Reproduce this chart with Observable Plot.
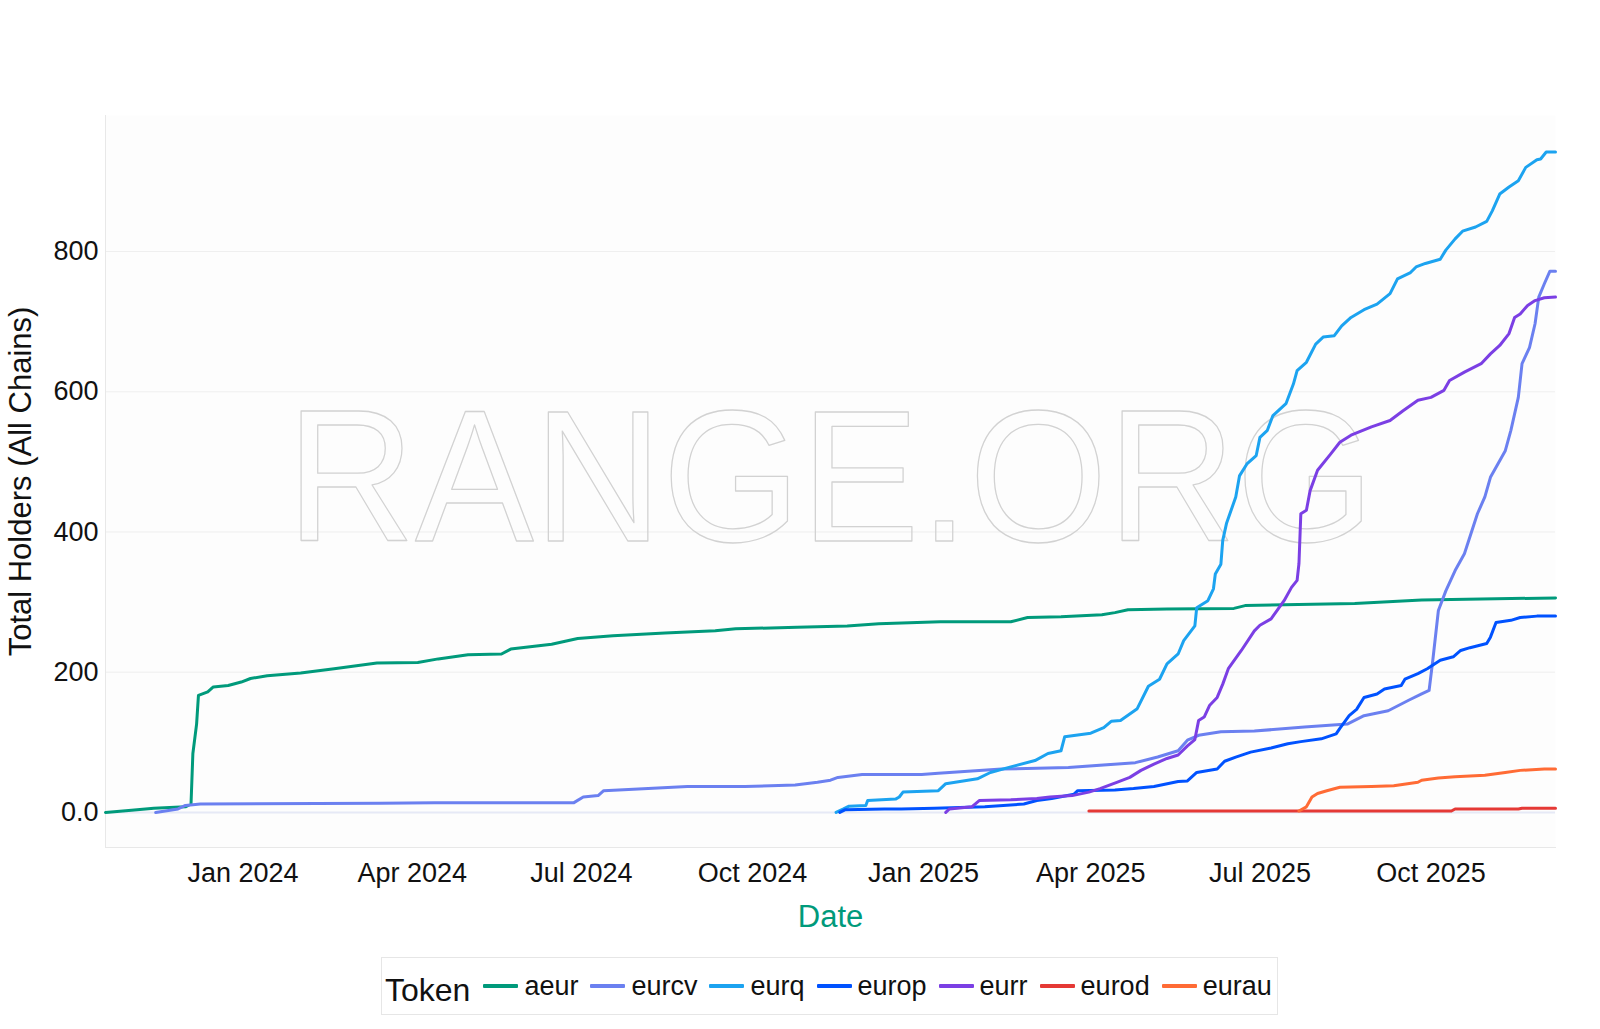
<!DOCTYPE html>
<html>
<head>
<meta charset="utf-8">
<script src="https://cdn.jsdelivr.net/npm/d3@7"></script>
<script src="https://cdn.jsdelivr.net/npm/@observablehq/plot@0.6"></script>
<style>
  html, body { margin: 0; padding: 0; background: #ffffff; }
  body { width: 1600px; height: 1029px; position: relative; overflow: hidden;
         font-family: "Liberation Sans", Arial, Helvetica, sans-serif; }
  #chart { position: absolute; left: 0; top: 0; }
  #legend { position: absolute; left: 381px; top: 957px; width: 897px; height: 58px;
            border: 1px solid #e6e6e6; background: #fff; box-sizing: border-box;
            display: flex; align-items: center; padding-left: 3px; color: #111; }
  #legend .title { font-size: 32px; margin-right: 13px; position: relative; top: 4px; }
  #legend .item { display: flex; align-items: center; font-size: 27px; margin-right: 12px; }
  #legend .sw { width: 35px; height: 4px; margin-right: 6px; border-radius: 1px; }
</style>
</head>
<body>
<div id="chart"></div>
<div id="legend"></div>
<script>
// ---- data ----
const tokens = ["aeur", "eurcv", "eurq", "europ", "eurr", "eurod", "eurau"];
const tokenColors = ["#009a7b", "#6b80f0", "#1ca3f0", "#0052ff", "#7b3fe4", "#e53935", "#ff6b35"];
const yTicks = [0, 200, 400, 600, 800];
const xTicks = ["2024-01-01", "2024-04-01", "2024-07-01", "2024-10-01", "2025-01-01", "2025-04-01", "2025-07-01", "2025-10-01"];

const aeur = [
  ["2023-10-19", 0], ["2023-11-02", 3], ["2023-11-14", 6], ["2023-12-01", 8], ["2023-12-04", 12],
  ["2023-12-05", 84], ["2023-12-07", 126], ["2023-12-08", 167], ["2023-12-13", 172], ["2023-12-16", 179],
  ["2023-12-24", 181], ["2023-12-31", 186], ["2024-01-05", 191], ["2024-01-14", 195], ["2024-02-01", 199],
  ["2024-02-19", 205], ["2024-03-13", 213], ["2024-04-04", 214], ["2024-04-15", 219], ["2024-05-01", 225],
  ["2024-05-19", 226], ["2024-05-24", 233], ["2024-06-15", 240], ["2024-06-29", 248], ["2024-07-18", 252],
  ["2024-08-15", 256], ["2024-09-11", 259], ["2024-09-22", 262], ["2024-10-25", 264], ["2024-11-21", 266],
  ["2024-12-08", 269], ["2025-01-10", 272], ["2025-02-17", 272], ["2025-02-26", 278], ["2025-03-16", 279],
  ["2025-04-07", 282], ["2025-04-14", 285], ["2025-04-21", 289], ["2025-05-12", 290], ["2025-06-17", 291],
  ["2025-06-23", 295], ["2025-08-21", 298], ["2025-09-26", 303], ["2025-12-07", 306]
];
const eurcv = [
  ["2023-11-15", 0], ["2023-11-27", 5], ["2023-12-01", 10], ["2023-12-09", 12], ["2024-03-15", 13],
  ["2024-04-13", 14], ["2024-06-27", 14], ["2024-07-02", 22], ["2024-07-10", 24], ["2024-07-13", 31],
  ["2024-07-29", 33], ["2024-08-27", 37], ["2024-09-27", 37], ["2024-10-24", 39], ["2024-11-05", 43],
  ["2024-11-12", 46], ["2024-11-16", 50], ["2024-11-29", 54], ["2024-12-31", 54], ["2025-01-09", 56],
  ["2025-02-12", 62], ["2025-03-20", 64], ["2025-04-25", 71], ["2025-05-07", 79], ["2025-05-18", 88],
  ["2025-05-23", 103], ["2025-05-29", 110], ["2025-06-10", 115], ["2025-06-28", 116], ["2025-07-25", 122],
  ["2025-08-17", 126], ["2025-08-26", 138], ["2025-09-08", 145], ["2025-09-19", 160], ["2025-09-26", 169],
  ["2025-09-30", 174], ["2025-10-02", 217], ["2025-10-05", 288], ["2025-10-09", 316], ["2025-10-14", 345],
  ["2025-10-19", 369], ["2025-10-26", 426], ["2025-10-30", 450], ["2025-11-02", 478], ["2025-11-06", 497],
  ["2025-11-10", 516], ["2025-11-13", 545], ["2025-11-17", 592], ["2025-11-19", 640], ["2025-11-23", 663],
  ["2025-11-26", 697], ["2025-11-28", 735], ["2025-12-01", 754], ["2025-12-04", 772], ["2025-12-07", 772]
];
const eurq = [
  ["2024-11-15", 0], ["2024-11-19", 5], ["2024-11-22", 9], ["2024-12-01", 10], ["2024-12-02", 17],
  ["2024-12-17", 19], ["2024-12-19", 22], ["2024-12-21", 29], ["2025-01-09", 31], ["2025-01-13", 41],
  ["2025-01-30", 48], ["2025-02-06", 57], ["2025-02-17", 65], ["2025-03-02", 74], ["2025-03-09", 84],
  ["2025-03-16", 88], ["2025-03-18", 108], ["2025-04-01", 113], ["2025-04-08", 121], ["2025-04-12", 130],
  ["2025-04-17", 131], ["2025-04-26", 148], ["2025-05-02", 180], ["2025-05-08", 190], ["2025-05-12", 212],
  ["2025-05-18", 226], ["2025-05-21", 245], ["2025-05-27", 266], ["2025-05-28", 292], ["2025-06-03", 302],
  ["2025-06-06", 319], ["2025-06-07", 340], ["2025-06-10", 354], ["2025-06-11", 388], ["2025-06-13", 412],
  ["2025-06-18", 450], ["2025-06-20", 480], ["2025-06-24", 497], ["2025-06-29", 509], ["2025-07-01", 535],
  ["2025-07-05", 545], ["2025-07-08", 566], ["2025-07-15", 583], ["2025-07-19", 611], ["2025-07-21", 630],
  ["2025-07-26", 642], ["2025-07-31", 668], ["2025-08-04", 678], ["2025-08-10", 680], ["2025-08-14", 694],
  ["2025-08-19", 706], ["2025-08-26", 717], ["2025-09-02", 725], ["2025-09-09", 740], ["2025-09-13", 761],
  ["2025-09-20", 770], ["2025-09-23", 778], ["2025-09-28", 783], ["2025-10-06", 789], ["2025-10-09", 802],
  ["2025-10-14", 818], ["2025-10-18", 829], ["2025-10-25", 835], ["2025-10-31", 843], ["2025-11-03", 858],
  ["2025-11-07", 882], ["2025-11-12", 892], ["2025-11-17", 901], ["2025-11-21", 920], ["2025-11-27", 931],
  ["2025-11-29", 932], ["2025-12-02", 942], ["2025-12-07", 942]
];
const europ = [
  ["2024-11-17", 0], ["2024-11-20", 4], ["2024-12-11", 5], ["2024-12-20", 5], ["2025-01-07", 6],
  ["2025-02-03", 8], ["2025-02-24", 12], ["2025-03-03", 17], ["2025-03-11", 20], ["2025-03-23", 26],
  ["2025-03-25", 31], ["2025-04-14", 32], ["2025-04-24", 34], ["2025-05-05", 37], ["2025-05-18", 44],
  ["2025-05-23", 45], ["2025-05-28", 57], ["2025-06-08", 62], ["2025-06-12", 73], ["2025-06-18", 79],
  ["2025-06-26", 86], ["2025-07-07", 92], ["2025-07-16", 98], ["2025-07-23", 101], ["2025-08-03", 105],
  ["2025-08-11", 112], ["2025-08-13", 120], ["2025-08-18", 138], ["2025-08-22", 147], ["2025-08-26", 164],
  ["2025-09-02", 169], ["2025-09-06", 176], ["2025-09-15", 181], ["2025-09-17", 190], ["2025-09-24", 198],
  ["2025-09-29", 205], ["2025-10-06", 217], ["2025-10-13", 222], ["2025-10-17", 231], ["2025-10-22", 235],
  ["2025-10-31", 241], ["2025-11-02", 250], ["2025-11-05", 271], ["2025-11-13", 274], ["2025-11-18", 278],
  ["2025-11-27", 280], ["2025-12-07", 280]
];
const eurr = [
  ["2025-01-13", 0], ["2025-01-15", 5], ["2025-01-27", 8], ["2025-01-31", 17], ["2025-02-17", 18],
  ["2025-03-03", 20], ["2025-03-10", 22], ["2025-03-22", 24], ["2025-03-31", 29], ["2025-04-06", 34],
  ["2025-04-15", 43], ["2025-04-22", 50], ["2025-04-28", 60], ["2025-05-05", 69], ["2025-05-12", 77],
  ["2025-05-18", 82], ["2025-05-23", 95], ["2025-05-27", 104], ["2025-05-29", 131], ["2025-06-01", 136],
  ["2025-06-04", 153], ["2025-06-08", 164], ["2025-06-11", 183], ["2025-06-14", 205], ["2025-06-21", 231],
  ["2025-06-28", 259], ["2025-07-01", 267], ["2025-07-07", 276], ["2025-07-14", 302], ["2025-07-18", 321],
  ["2025-07-21", 331], ["2025-07-22", 355], ["2025-07-23", 426], ["2025-07-26", 431], ["2025-07-28", 459],
  ["2025-08-01", 488], ["2025-08-08", 511], ["2025-08-13", 528], ["2025-08-19", 538], ["2025-08-30", 550],
  ["2025-09-09", 559], ["2025-09-16", 573], ["2025-09-24", 588], ["2025-10-01", 592], ["2025-10-08", 602],
  ["2025-10-11", 616], ["2025-10-19", 628], ["2025-10-28", 640], ["2025-11-02", 654], ["2025-11-07", 666],
  ["2025-11-12", 683], ["2025-11-15", 706], ["2025-11-18", 711], ["2025-11-22", 723], ["2025-11-26", 730],
  ["2025-12-01", 734], ["2025-12-07", 735]
];
const eurod = [
  ["2025-03-31", 2], ["2025-10-12", 2], ["2025-10-14", 5], ["2025-11-17", 5], ["2025-11-19", 6], ["2025-12-07", 6]
];
const eurau = [
  ["2025-07-22", 2], ["2025-07-26", 8], ["2025-07-29", 22], ["2025-08-01", 27], ["2025-08-06", 31],
  ["2025-08-13", 36], ["2025-08-30", 37], ["2025-09-11", 38], ["2025-09-24", 43], ["2025-09-26", 46],
  ["2025-10-05", 49], ["2025-10-14", 51], ["2025-10-30", 53], ["2025-11-10", 57], ["2025-11-18", 60],
  ["2025-12-01", 62], ["2025-12-07", 62]
];

// ---- build table ----
const parse = d3.utcParse("%Y-%m-%d");
const seriesByToken = {aeur, eurcv, eurq, europ, eurr, eurod, eurau};
const rows = tokens.flatMap(t => seriesByToken[t].map(([d, v]) => ({token: t, date: parse(d), value: v})));

const chart = Plot.plot({
  width: 1600,
  height: 940,
  marginLeft: 105,
  marginRight: 45,
  marginTop: 115,
  marginBottom: 93,
  style: {fontFamily: '"Liberation Sans", Arial, Helvetica, sans-serif', background: "transparent", color: "#111"},
  x: {type: "utc", domain: [parse("2023-10-19"), parse("2025-12-07")]},
  y: {domain: [-50, 994]},
  color: {domain: tokens, range: tokenColors},
  marks: [
    Plot.frame({fill: "#fdfdfd", stroke: null}),
    Plot.gridY(yTicks.filter(d => d !== 0), {stroke: "#efefef", strokeOpacity: 1, strokeWidth: 1}),
    Plot.ruleY([0], {stroke: "#e6e9f6", strokeWidth: 2}),
    Plot.frame({anchor: "left", stroke: "#e8e8e8"}),
    Plot.frame({anchor: "bottom", stroke: "#e8e8e8"}),
    Plot.text(["RANGE.ORG"], {frameAnchor: "middle", dy: -1, fontSize: 188, fill: "none",
      stroke: "#d2d2d2", strokeWidth: 1.3, className: "wm"}),
    Plot.line(rows, {x: "date", y: "value", z: "token", stroke: "token", strokeWidth: 3, strokeLinejoin: "round"}),
    Plot.axisY(yTicks, {tickSize: 0, tickPadding: 7, fontSize: 27, label: null,
      tickFormat: d => d === 0 ? "0.0" : String(d)}),
    Plot.axisX(xTicks.map(parse), {tickSize: 0, tickPadding: 15, fontSize: 27, label: null,
      tickFormat: d3.utcFormat("%b %Y")}),
    Plot.text(["Date"], {frameAnchor: "bottom", dy: 79, fontSize: 31, fill: "#009a7b"}),
    Plot.text(["Total Holders (All Chains)"], {frameAnchor: "left", textAnchor: "middle", dx: -84, rotate: -90,
      fontSize: 31, fill: "#111"})
  ]
});
document.getElementById("chart").appendChild(chart);

// stretch watermark to its measured width
const wm = chart.querySelector(".wm text") || chart.querySelector("g.wm text");
if (wm) { wm.setAttribute("textLength", "1088"); wm.setAttribute("lengthAdjust", "spacingAndGlyphs"); }

// ---- legend ----
const legend = document.getElementById("legend");
const title = document.createElement("span");
title.className = "title"; title.textContent = "Token";
legend.appendChild(title);
tokens.forEach((t, i) => {
  const item = document.createElement("span");
  item.className = "item";
  const sw = document.createElement("span");
  sw.className = "sw"; sw.style.background = tokenColors[i];
  const lab = document.createElement("span");
  lab.textContent = t;
  item.appendChild(sw); item.appendChild(lab);
  legend.appendChild(item);
});
</script>
</body>
</html>
